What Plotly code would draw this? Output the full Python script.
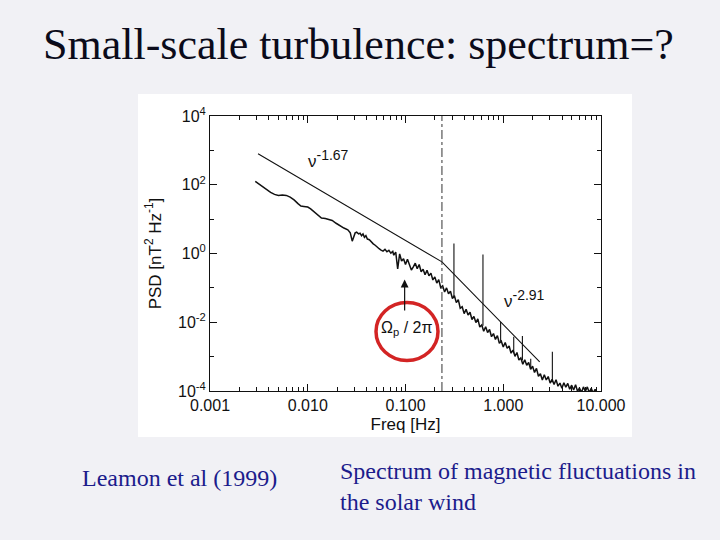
import math
import plotly.graph_objects as go

# ---- data ----
# measured spectrum, log10(freq [Hz]) and log10(PSD [nT^2/Hz])
spec_logf = [-2.537, -2.50, -2.46, -2.42, -2.38, -2.34, -2.30, -2.26, -2.22, -2.18,
             -2.14, -2.10, -2.07, -2.04, -2.00, -1.97, -1.93, -1.89, -1.86, -1.82,
             -1.78, -1.75, -1.71, -1.67, -1.63, -1.59, -1.565, -1.545, -1.53, -1.515,
             -1.50, -1.48, -1.465, -1.45, -1.435, -1.42, -1.405, -1.39, -1.37, -1.35,
             -1.33, -1.31, -1.29, -1.27, -1.25, -1.23, -1.21, -1.19, -1.17, -1.15,
             -1.13, -1.12,
             -1.10, -1.08, -1.06, -1.04, -1.02, -1.00, -0.98, -0.96, -0.94, -0.92,
             -0.90, -0.88, -0.86, -0.84, -0.82, -0.80, -0.78, -0.76, -0.74, -0.72,
             -0.70, -0.68, -0.66, -0.64, -0.62, -0.60, -0.58, -0.56, -0.54, -0.52,
             -0.50, -0.48, -0.46, -0.44, -0.42, -0.40, -0.38, -0.36, -0.34, -0.32,
             -0.30, -0.28, -0.26, -0.24, -0.22, -0.20, -0.18, -0.16, -0.14, -0.12,
             -0.10, -0.08, -0.06, -0.04, -0.02, 0.00, 0.02, 0.04, 0.06, 0.08,
             0.10, 0.12, 0.14, 0.16, 0.18, 0.20, 0.22, 0.24, 0.26, 0.28,
             0.30, 0.32, 0.34, 0.36, 0.38, 0.40, 0.42, 0.44, 0.46, 0.48,
             0.50, 0.52, 0.54, 0.56, 0.58, 0.60, 0.62, 0.64, 0.66, 0.68,
             0.70, 0.72, 0.74, 0.76, 0.78, 0.80, 0.82, 0.84, 0.86, 0.88,
             0.90, 0.92, 0.94, 0.96]
spec_logpsd = [2.10, 2.02, 1.93, 1.86, 1.78, 1.72, 1.69, 1.70, 1.69, 1.64,
               1.56, 1.45, 1.38, 1.37, 1.35, 1.30, 1.20, 1.08, 1.03, 1.02,
               0.99, 0.96, 0.88, 0.80, 0.74, 0.69, 0.60, 0.36, 0.48, 0.60,
               0.62, 0.57, 0.59, 0.52, 0.57, 0.47, 0.52, 0.42, 0.40, 0.33,
               0.28, 0.24, 0.18, 0.14, 0.10, 0.07, 0.12, 0.05, 0.09, 0.01,
               0.06, -0.05,
               0.04, -0.45, -0.01, -0.22, -0.15, -0.32, -0.17, -0.31, -0.48, -0.39,
               -0.28, -0.44, -0.32, -0.53, -0.46, -0.62, -0.49, -0.65, -0.57, -0.77,
               -0.68, -0.86, -0.76, -0.99, -0.94, -1.12, -1.00, -1.17, -1.10, -1.31,
               -1.23, -1.43, -1.34, -1.59, -1.55, -1.75, -1.62, -1.79, -1.71, -1.92,
               -1.83, -2.01, -1.90, -2.14, -2.08, -2.26, -2.13, -2.30, -2.21, -2.42,
               -2.33, -2.50, -2.39, -2.61, -2.55, -2.72, -2.59, -2.76, -2.69, -2.90,
               -2.81, -2.99, -2.88, -3.10, -3.04, -3.22, -3.09, -3.25, -3.17, -3.37,
               -3.28, -3.46, -3.34, -3.57, -3.50, -3.68, -3.53, -3.68, -3.58, -3.77,
               -3.66, -3.81, -3.67, -3.86, -3.77, -3.92, -3.76, -3.89, -3.78, -3.95,
               -3.83, -3.97, -3.82, -4.01, -3.91, -4.05, -3.88, -4.01, -3.88, -4.05,
               -3.92, -4.06, -3.95, -4.08]

# narrow spectral spikes (freq, base PSD, top PSD)
spike_freq = [0.313, 0.62, 0.94, 1.28, 1.57, 1.91, 3.18]
spike_base = [0.056, 0.0079, 0.0028, 0.00126, 0.00079, 0.0005, 0.00018]
spike_top = [1.95, 0.93, 0.0102, 0.0038, 0.0040, 0.00087, 0.00138]

# power-law fits: nu^-1.67 then nu^-2.91, joined at the break
fit_freq = [0.0031, 0.236, 2.36]
fit_psd = [794.0, 0.57, 7.0e-4]
break_freq = 0.236
slope_labels = ["\u03bd<sup><span style='font-size:14px'>-1.67</span></sup>",
                "\u03bd<sup><span style='font-size:14px'>-2.91</span></sup>"]
slope_label_freq = [0.0163, 1.66]
slope_label_psd = [575.0, 0.049]

# proton gyrofrequency marker
gyro_freq = 0.098
gyro_arrow_psd = [0.02, 0.174]   # tail, head
gyro_label = "\u03a9<sub><span style='color:#111111'>p</span></sub> / 2\u03c0"
gyro_label_psd = 0.0064

x_tick_vals = [0.001, 0.01, 0.1, 1, 10]
x_tick_text = ["0.001", "0.010", "0.100", "1.000", "10.000"]
y_tick_vals = [1e-4, 1e-2, 1e0, 1e2, 1e4]
y_tick_text = ["10<sup>-4</sup>", "10<sup>-2</sup>", "10<sup>0</sup>",
               "10<sup>2</sup>", "10<sup>4</sup>"]
y_minor_vals = [1e-3, 1e-1, 1e1, 1e3]

slide_title = "Small-scale turbulence: spectrum=?"
credit_text = "Leamon et al (1999)"
caption_text = "Spectrum of magnetic fluctuations in<br>the solar wind"

# ---- build figure ----
W, H = 720, 540
fig = go.Figure()

spec_f = [10 ** v for v in spec_logf]
spec_p = [10 ** v for v in spec_logpsd]
fig.add_trace(go.Scatter(x=spec_f, y=spec_p, mode="lines",
                         line=dict(color="#111111", width=1.5), hoverinfo="skip"))

sx, sy = [], []
for f, b, t in zip(spike_freq, spike_base, spike_top):
    sx += [f, f, None]
    sy += [b, t, None]
fig.add_trace(go.Scatter(x=sx, y=sy, mode="lines",
                         line=dict(color="#111111", width=1.1), hoverinfo="skip"))

fig.add_trace(go.Scatter(x=fit_freq, y=fit_psd, mode="lines",
                         line=dict(color="#111111", width=1.1), hoverinfo="skip"))

fig.add_trace(go.Scatter(x=[break_freq, break_freq], y=[1e-4, 1e4], mode="lines",
                         line=dict(color="#333333", width=1, dash="dashdot"),
                         hoverinfo="skip"))

# plot area in pixels
L, R, T, B = 210, 601, 116, 391

tickfont = dict(family="Liberation Sans", size=16, color="#111111")
fig.update_layout(
    width=W, height=H,
    paper_bgcolor="#F1F1F5", plot_bgcolor="white",
    showlegend=False,
    margin=dict(l=L, r=W - R, t=T, b=H - B, autoexpand=False),
    xaxis=dict(type="log", range=[-3, 1], tickmode="array",
               tickvals=x_tick_vals, ticktext=x_tick_text,
               ticks="inside", ticklen=7, tickwidth=1, tickcolor="#111",
               showline=True, linecolor="#111", linewidth=1, mirror="ticks",
               showgrid=False, zeroline=False, tickfont=tickfont,
               minor=dict(tickvals=[m * 10 ** k for k in range(-3, 1) for m in range(2, 10)],
                          ticks="inside", ticklen=4, tickcolor="#111", showgrid=False),
               title=dict(text="Freq [Hz]", standoff=4,
                          font=dict(family="Liberation Sans", size=17, color="#111"))),
    yaxis=dict(type="log", range=[-4, 4], tickmode="array",
               tickvals=y_tick_vals, ticktext=y_tick_text,
               ticks="inside", ticklen=7, tickwidth=1, tickcolor="#111",
               showline=True, linecolor="#111", linewidth=1, mirror="ticks",
               showgrid=False, zeroline=False, tickfont=tickfont,
               minor=dict(tickvals=y_minor_vals, ticks="inside", ticklen=4,
                          tickcolor="#111", showgrid=False),
               title=dict(text="PSD [nT<sup>2</sup> Hz<sup>-1</sup>]", standoff=12,
                          font=dict(family="Liberation Sans", size=17, color="#111"))),
)

# white scanned-figure panel
fig.add_shape(type="rect", xref="paper", yref="paper", layer="below",
              x0=(138 - L) / (R - L), x1=(632 - L) / (R - L),
              y0=(B - 437) / (B - T), y1=(B - 94) / (B - T),
              fillcolor="white", line=dict(width=0))

# slope labels
for txt, f, p in zip(slope_labels, slope_label_freq, slope_label_psd):
    fig.add_annotation(x=math.log10(f), y=math.log10(p), text=txt, showarrow=False,
                       font=dict(family="Liberation Sans", size=17, color="#111"))

# arrow to gyrofrequency
fig.add_annotation(x=math.log10(gyro_freq), y=math.log10(gyro_arrow_psd[1]),
                   ax=math.log10(gyro_freq), ay=math.log10(gyro_arrow_psd[0]),
                   xref="x", yref="y", axref="x", ayref="y",
                   text="", showarrow=True, arrowhead=2, arrowsize=1.3,
                   arrowwidth=1.2, arrowcolor="#111")
fig.add_annotation(x=math.log10(0.1035), y=math.log10(gyro_label_psd), text=gyro_label,
                   showarrow=False,
                   font=dict(family="Liberation Sans", size=16, color="#111111"))

# red circle (pixel position converted to paper coords)
cx, cy, rx, ry = 407, 331.5, 31, 29
fig.add_shape(type="circle", xref="paper", yref="paper",
              x0=(cx - rx - L) / (R - L), x1=(cx + rx - L) / (R - L),
              y0=(B - (cy + ry)) / (B - T), y1=(B - (cy - ry)) / (B - T),
              line=dict(color="#D32424", width=3.5))

# slide texts
def px(x):
    return (x - L) / (R - L)

def py(y):
    return (B - y) / (B - T)

fig.add_annotation(xref="paper", yref="paper", x=px(358), y=py(44), text=slide_title,
                   showarrow=False, xanchor="center", yanchor="middle",
                   font=dict(family="Liberation Serif", size=44, color="#0b0b1a"))
fig.add_annotation(xref="paper", yref="paper", x=px(80), y=py(478), text=credit_text,
                   showarrow=False, xanchor="left", yanchor="middle",
                   font=dict(family="Liberation Serif", size=24, color="#1c1c8c"))
fig.add_annotation(xref="paper", yref="paper", x=px(338), y=py(486), text=caption_text,
                   showarrow=False, xanchor="left", yanchor="middle", align="left",
                   font=dict(family="Liberation Serif", size=24, color="#1c1c8c"))

fig.write_html("out.html", config={"displayModeBar": False},
               post_script="document.body.style.margin='0';")
